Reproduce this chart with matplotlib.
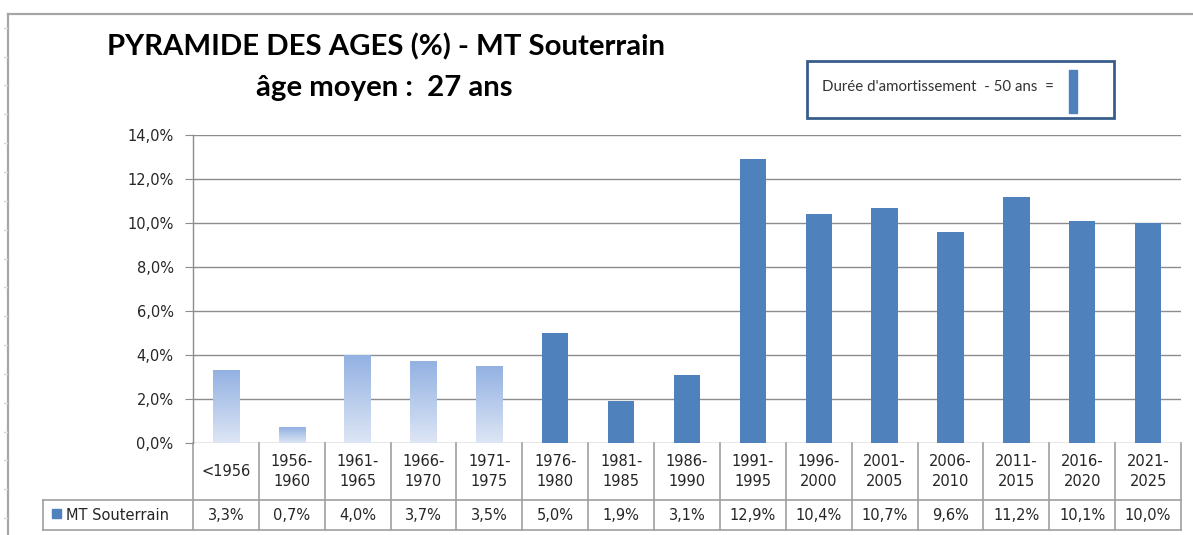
import numpy as np
import matplotlib
matplotlib.use("Agg")
import matplotlib.pyplot as plt
from matplotlib.patches import Rectangle
from matplotlib.lines import Line2D
from matplotlib.transforms import blended_transform_factory
from matplotlib.colors import LinearSegmentedColormap

# ---- data ----
categories = ["<1956", "1956-\n1960", "1961-\n1965", "1966-\n1970", "1971-\n1975",
              "1976-\n1980", "1981-\n1985", "1986-\n1990", "1991-\n1995", "1996-\n2000",
              "2001-\n2005", "2006-\n2010", "2011-\n2015", "2016-\n2020", "2021-\n2025"]
values = [3.3, 0.7, 4.0, 3.7, 3.5, 5.0, 1.9, 3.1, 12.9, 10.4, 10.7, 9.6, 11.2, 10.1, 10.0]
value_labels = ["3,3%", "0,7%", "4,0%", "3,7%", "3,5%", "5,0%", "1,9%", "3,1%", "12,9%",
                "10,4%", "10,7%", "9,6%", "11,2%", "10,1%", "10,0%"]
amortized = [True, True, True, True, True] + [False] * 10   # beyond 50-year amortisation
series_name = "MT Souterrain"
yticks = [0, 2, 4, 6, 8, 10, 12, 14]
ytick_labels = ["0,0%", "2,0%", "4,0%", "6,0%", "8,0%", "10,0%", "12,0%", "14,0%"]
title1 = "PYRAMIDE DES AGES (%) - MT Souterrain"
title2 = "âge moyen :  27 ans"
legend_text = "Durée d'amortissement  - 50 ans  ="

BLUE = "#4F81BD"
GRID = "#8C8C8C"
W, H = 1193, 535

fig = plt.figure(figsize=(W / 100, H / 100), dpi=100)
fig.patch.set_facecolor("white")

def fx(px):
    return px / W

def fy(py):
    return 1 - py / H

# spreadsheet backdrop
fig.add_artist(Line2D([fx(8), fx(8)], [fy(14), fy(535)], color="#A6A6A6", lw=1.6))
fig.add_artist(Line2D([fx(8), fx(1193)], [fy(14), fy(14)], color="#A6A6A6", lw=1.6))
for py in np.arange(27.7, 535, 28.85):
    fig.add_artist(Line2D([fx(4), fx(7)], [fy(py), fy(py)], color="#DADADA", lw=1))

# axes
left, right, top, bottom = 193, 1181, 135, 443
ax = fig.add_axes([fx(left), fy(bottom), fx(right - left), (bottom - top) / H])
n = len(values)
x = np.arange(n)
ax.set_xlim(-0.5, n - 0.5)
ax.set_ylim(0, 14)
for s in ["top", "right", "bottom"]:
    ax.spines[s].set_visible(False)
ax.spines["left"].set_color(GRID)
ax.spines["left"].set_linewidth(1)
ax.set_yticks(yticks)
ax.set_yticklabels(ytick_labels, fontsize=10.5, color="#262626", family="DejaVu Sans")
ax.tick_params(axis="y", length=6, color=GRID, pad=8)
ax.set_xticks([])
for t in yticks:
    ax.axhline(t, color=GRID, lw=1, zorder=1)

bw = 0.4
grad = np.linspace(0, 1, 256).reshape(-1, 1)
cmap = LinearSegmentedColormap.from_list("g", ["#DDE6F5", "#93B1E2"])
for xi, v, am in zip(x, values, amortized):
    if am:
        ax.imshow(grad, extent=[xi - bw / 2, xi + bw / 2, 0, v], origin="lower",
                  cmap=cmap, aspect="auto", zorder=2, interpolation="bilinear")
    else:
        ax.bar(xi, v, width=bw, color=BLUE, zorder=2)
ax.set_xlim(-0.5, n - 0.5)
ax.set_ylim(0, 14)

# data table below
tr = blended_transform_factory(ax.transData, ax.transAxes)
def ay(py):
    return (bottom - py) / (bottom - top)

row1_bot, row2_bot = 500, 530
lc = "#A0A0A0"
for b in np.arange(n + 1) - 0.5:
    ax.add_line(Line2D([b, b], [ay(bottom), ay(row2_bot)], transform=tr, color=lc, lw=1.2, clip_on=False))
fig.add_artist(Line2D([fx(43), fx(right)], [fy(row1_bot), fy(row1_bot)], color=lc, lw=1.2))
fig.add_artist(Line2D([fx(43), fx(right)], [fy(row2_bot), fy(row2_bot)], color=lc, lw=1.2))
fig.add_artist(Line2D([fx(43), fx(43)], [fy(row1_bot), fy(row2_bot)], color=lc, lw=1.2))

for xi, cat, lab in zip(x, categories, value_labels):
    ax.text(xi, ay((bottom + row1_bot) / 2), cat, transform=tr, ha="center", va="center",
            fontsize=10.5, color="#262626", linespacing=1.45, family="DejaVu Sans")
    ax.text(xi, ay((row1_bot + row2_bot) / 2), lab, transform=tr, ha="center", va="center",
            fontsize=10.5, color="#262626", family="DejaVu Sans")

# legend key in table
fig.add_artist(Rectangle((fx(52), fy(518)), fx(9), 9 / H, color=BLUE))
fig.text(fx(66), fy(515.5), series_name, ha="left", va="center", fontsize=10.5,
         color="#262626", family="DejaVu Sans")

# titles
fig.text(fx(386), fy(47), title1, ha="center", va="center", fontsize=21.2,
         fontweight="bold", family="Lato", color="black")
fig.text(fx(384), fy(88), title2, ha="center", va="center", fontsize=21.2,
         fontweight="bold", family="Lato", color="black")

# legend box
fig.add_artist(Rectangle((fx(807), fy(118)), fx(1114 - 807), (118 - 61) / H,
                         facecolor="white", edgecolor="#385D8A", lw=2))
fig.text(fx(822), fy(87), legend_text, ha="left", va="center", fontsize=10.8,
         family="Lato", color="#333333")
fig.add_artist(Rectangle((fx(1069), fy(113)), fx(8), (113 - 70) / H, color=BLUE))

fig.savefig("out.png", dpi=100, facecolor="white")
